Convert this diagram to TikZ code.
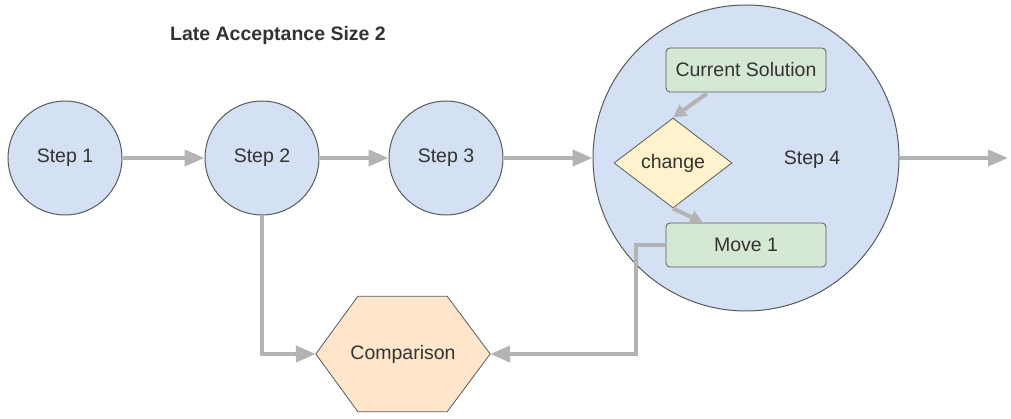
\documentclass[tikz,border=0pt]{standalone}
\usepackage{fontspec}
\setmainfont{Liberation Sans}
\usetikzlibrary{arrows.meta,shapes.geometric,calc}
\definecolor{stepfill}{HTML}{D4E1F5}
\definecolor{edgegrey}{HTML}{5A5A5A}
\definecolor{linkgrey}{HTML}{B3B3B3}
\definecolor{boxfill}{HTML}{D5E8D4}
\definecolor{decfill}{HTML}{FFF2CC}
\definecolor{cmpfill}{HTML}{FFE6CC}
\definecolor{txt}{HTML}{333333}
\tikzset{
  lbl/.style={font=\fontsize{19.5}{23}\selectfont, text=txt},
  stepnode/.style={circle, draw=edgegrey, line width=1pt, fill=stepfill, minimum size=114pt, inner sep=0pt, lbl},
  bigstep/.style={circle, draw=edgegrey, line width=1pt, fill=stepfill, minimum size=306pt, inner sep=0pt},
  solbox/.style={rectangle, rounded corners=4pt, draw=edgegrey, line width=0.8pt, fill=boxfill, minimum width=160pt, minimum height=44pt, inner sep=0pt, lbl},
  decnode/.style={diamond, draw=edgegrey, line width=0.8pt, fill=decfill, minimum width=118pt, minimum height=90pt, inner sep=0pt, lbl},
  link/.style={draw=linkgrey, line width=4pt, -{Triangle[length=20pt,width=16pt]}},
  innerlink/.style={draw=linkgrey, line width=4pt, -{Triangle[length=13pt,width=13pt]}},
}
\begin{document}
\begin{tikzpicture}[x=1pt, y=-1pt]
\useasboundingbox (0,0) rectangle (1011,419);

% title
\node[lbl, font=\fontsize{19.5}{23}\selectfont\bfseries] (title) at (278,35) {Late Acceptance Size 2};

% step circles
\node[stepnode] (s1) at (65,158) {Step 1};
\node[stepnode] (s2) at (262,158) {Step 2};
\node[stepnode] (s3) at (446,158) {Step 3};
\node[bigstep] (s4) at (746,158) {};
\node[lbl] (s4lbl) at (812,160) {Step 4};

% contents of step 4
\node[solbox] (cur) at (746,70) {Current Solution};
\node[decnode] (chg) at (673,163) {change};
\node[solbox] (mv) at (746,245) {Move 1};

% comparison hexagon
\node[minimum width=174pt, minimum height=115pt, inner sep=0pt] (cmp) at (403,354) {};
\filldraw[draw=edgegrey, line width=0.8pt, fill=cmpfill]
  (cmp.west) -- ($(cmp.north west)+(42,0)$) -- ($(cmp.north east)+(-43,0)$)
  -- (cmp.east) -- ($(cmp.south east)+(-43,0)$) -- ($(cmp.south west)+(42,0)$) -- cycle;
\node[lbl] (cmplbl) at (cmp.center) {Comparison};

% main flow
\coordinate (out) at (1008,158);
\draw[link] (s1) -- (s2);
\draw[link] (s2) -- (s3);
\draw[link] (s3) -- (s4);
\draw[link] (s4.east) -- (out);

% inside step 4
\draw[innerlink] ($(cur.south)+(-39,1)$) -- (chg.north);
\draw[innerlink] (chg.south) -- ($(mv.north)+(-43,0)$);

% feeds into the comparison
\draw[link] (s2.south) |- (cmp.west);
\draw[link] (mv.west) -- ++(-30,0) |- (cmp.east);
\end{tikzpicture}
\end{document}
